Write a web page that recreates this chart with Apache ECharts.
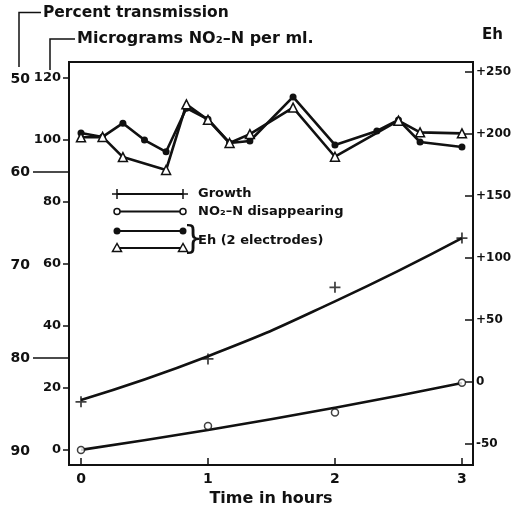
<!DOCTYPE html>
<html>
<head>
<meta charset="utf-8">
<script src="https://cdn.jsdelivr.net/npm/echarts@6/dist/echarts.min.js"></script>
<style>
  html, body { margin: 0; padding: 0; background: #fff; }
  #chart { width: 523px; height: 506px; }
</style>
</head>
<body>
<div id="chart"></div>
<script>
// Time axis (hours)
const hourTicks = [0, 1, 2, 3];

// Growth, expressed as percent transmission (observed points and fitted curve)
const growthHours = [0, 1, 2, 3];
const growthPct = [84.7, 80.1, 72.4, 67.1];
const growthCurveHours = [0, 1, 2, 3];
const growthCurvePct = [84.5, 79.8, 73.9, 67.1];

// NO2-N disappearing, micrograms per ml (observed points and fitted curve)
const nitriteHours = [0, 1, 2, 3];
const nitriteUg = [0, 7.7, 12.1, 21.7];
const nitriteCurveHours = [0, 1, 2, 3];
const nitriteCurveUg = [0, 6.4, 13.6, 21.6];

// Eh (mV) from two electrodes
const ehHoursA = [0, 0.17, 0.33, 0.5, 0.67, 0.83, 1, 1.17, 1.33, 1.67, 2, 2.33, 2.5, 2.67, 3];
const ehA = [200.7, 197.5, 208.6, 195, 185.5, 220.7, 211.8, 192.6, 194.2, 229.8, 191, 202.3, 211.2, 193.4, 189.4];
const ehHoursB = [0, 0.17, 0.33, 0.67, 0.83, 1, 1.17, 1.33, 1.67, 2, 2.5, 2.67, 3];
const ehB = [197.2, 197.5, 181.2, 170.8, 223.8, 211.3, 192.6, 199.8, 221.2, 181.5, 210.6, 201.2, 200.4];

// Tick values
const ugTicks = [0, 20, 40, 60, 80, 100, 120];
const pctTicks = [50, 60, 70, 80, 90];
const pctLongTicks = [60, 80];
const ehTicks = [-50, 0, 50, 100, 150, 200, 250];

const ink = '#111';
const fontFamily = '"DejaVu Sans", sans-serif';
const zip = (xs, ys) => xs.map((x, i) => [x, ys[i]]);

const plusPath = 'path://M4.2,0H5.8V4.2H10V5.8H5.8V10H4.2V5.8H0V4.2H4.2Z';

// Legend glyphs: a short line with a marker at each end
const legendX0 = 117, legendX1 = 183;
const rowY = [194, 211.5, 231, 248];
function marker(kind, x, y) {
  if (kind === 'plus') {
    return [
      { type: 'line', z: 110, shape: { x1: x - 5, y1: y, x2: x + 5, y2: y }, style: { stroke: ink, lineWidth: 1.5 } },
      { type: 'line', z: 110, shape: { x1: x, y1: y - 5, x2: x, y2: y + 5 }, style: { stroke: ink, lineWidth: 1.5 } }
    ];
  }
  if (kind === 'open') {
    return [{ type: 'circle', z: 110, shape: { cx: x, cy: y, r: 3 }, style: { fill: '#fff', stroke: ink, lineWidth: 1.5 } }];
  }
  if (kind === 'dot') {
    return [{ type: 'circle', z: 110, shape: { cx: x, cy: y, r: 3.5 }, style: { fill: ink } }];
  }
  return [{ type: 'polygon', z: 110, shape: { points: [[x, y - 4.5], [x - 4.5, y + 3.5], [x + 4.5, y + 3.5]] }, style: { fill: '#fff', stroke: ink, lineWidth: 1.5 } }];
}
function legendRow(kind, y) {
  return [
    { type: 'line', z: 105, shape: { x1: legendX0, y1: y, x2: legendX1, y2: y }, style: { stroke: ink, lineWidth: 2.2 } }
  ].concat(marker(kind, legendX0, y), marker(kind, legendX1, y));
}
function label(text, x, y, size) {
  return { type: 'text', x: x, y: y, z: 110, style: { text: text, fontSize: size, fontWeight: 'bold', fontFamily: fontFamily, fill: ink, align: 'left', verticalAlign: 'middle' } };
}

const graphics = [
  // axis titles with their leader brackets
  { type: 'polyline', shape: { points: [[41, 12.5], [19, 12.5], [19, 67]] }, style: { stroke: ink, lineWidth: 1.5, fill: null } },
  label('Percent transmission', 43, 13, 15.5),
  { type: 'polyline', shape: { points: [[75, 39], [50, 39], [50, 70]] }, style: { stroke: ink, lineWidth: 1.5, fill: null } },
  label('Micrograms NO₂–N per ml.', 77, 39, 16),
  label('Eh', 482, 35, 15),
  // legend
  ...legendRow('plus', rowY[0]),
  label('Growth', 198, rowY[0], 13),
  ...legendRow('open', rowY[1]),
  label('NO₂–N disappearing', 198, rowY[1], 13),
  ...legendRow('dot', rowY[2]),
  ...legendRow('tri', rowY[3]),
  { type: 'text', x: 183, y: (rowY[2] + rowY[3]) / 2, z: 110, style: { text: '}', fontSize: 32, fontFamily: fontFamily, fill: ink, align: 'left', verticalAlign: 'middle' } },
  label('Eh (2 electrodes)', 198, (rowY[2] + rowY[3]) / 2 + 1, 13)
];

const labelStyle = { color: ink, fontSize: 13, fontWeight: 'bold', fontFamily: fontFamily };

const option = {
  animation: false,
  backgroundColor: '#fff',
  grid: {
    left: 69, right: 50, top: 62, bottom: 41,
    outerBoundsMode: 'none',
    containLabel: false,
    show: true, borderColor: ink, borderWidth: 2, backgroundColor: 'transparent'
  },
  xAxis: {
    type: 'value',
    min: -0.0945,
    max: 3.087,
    name: 'Time in hours',
    nameLocation: 'middle',
    nameGap: 22,
    nameTextStyle: { color: ink, fontSize: 16, fontWeight: 'bold', fontFamily: fontFamily },
    axisLine: { show: true, onZero: false, lineStyle: { color: ink, width: 2 } },
    axisTick: { show: true, inside: true, length: 7, customValues: hourTicks, lineStyle: { color: ink, width: 1.5 } },
    axisLabel: Object.assign({ customValues: hourTicks, margin: 7 }, labelStyle, { fontSize: 14 }),
    splitLine: { show: false }
  },
  yAxis: [
    {
      // micrograms NO2-N per ml
      type: 'value',
      position: 'left',
      min: -4.88,
      max: 125.2,
      axisLine: { show: true, onZero: false, lineStyle: { color: ink, width: 2 } },
      axisTick: { show: true, length: 6, customValues: ugTicks, lineStyle: { color: ink, width: 1.5 } },
      axisLabel: Object.assign({ customValues: ugTicks, margin: 8 }, labelStyle),
      splitLine: { show: false }
    },
    {
      // percent transmission (reads downward)
      type: 'value',
      position: 'left',
      offset: 0,
      inverse: true,
      min: 48.17,
      max: 91.5,
      axisLine: { show: false, onZero: false },
      axisTick: { show: true, length: 36, customValues: pctLongTicks, lineStyle: { color: ink, width: 1.5 } },
      axisLabel: Object.assign({ customValues: pctTicks, margin: 39 }, labelStyle, { fontSize: 14 }),
      splitLine: { show: false }
    },
    {
      // Eh
      type: 'value',
      position: 'right',
      min: -67.4,
      max: 258,
      axisLine: { show: true, onZero: false, lineStyle: { color: ink, width: 2 } },
      axisTick: { show: true, inside: true, length: 8, customValues: ehTicks, lineStyle: { color: ink, width: 1.5 } },
      axisLabel: Object.assign({
        customValues: ehTicks,
        margin: 3,
        formatter: v => (v > 0 ? '+' + v : String(v))
      }, labelStyle, { fontSize: 12 }),
      splitLine: { show: false }
    }
  ],
  series: [
    {
      name: 'Growth curve',
      type: 'line',
      yAxisIndex: 1,
      data: zip(growthCurveHours, growthCurvePct),
      smooth: 0.5,
      showSymbol: false,
      lineStyle: { color: ink, width: 2.6 }
    },
    {
      name: 'Growth',
      type: 'scatter',
      yAxisIndex: 1,
      data: zip(growthHours, growthPct),
      symbol: plusPath,
      symbolSize: 11,
      itemStyle: { color: ink }
    },
    {
      name: 'NO2-N curve',
      type: 'line',
      yAxisIndex: 0,
      data: zip(nitriteCurveHours, nitriteCurveUg),
      smooth: 0.5,
      showSymbol: false,
      lineStyle: { color: ink, width: 2.6 }
    },
    {
      name: 'NO2-N disappearing',
      type: 'scatter',
      yAxisIndex: 0,
      data: zip(nitriteHours, nitriteUg),
      symbol: 'circle',
      symbolSize: 7,
      itemStyle: { color: '#fff', borderColor: ink, borderWidth: 1.5 },
      z: 3
    },
    {
      name: 'Eh electrode 1',
      type: 'line',
      yAxisIndex: 2,
      data: zip(ehHoursA, ehA),
      symbol: 'circle',
      symbolSize: 7,
      showAllSymbol: true,
      itemStyle: { color: ink },
      lineStyle: { color: ink, width: 2.6 }
    },
    {
      name: 'Eh electrode 2',
      type: 'line',
      yAxisIndex: 2,
      data: zip(ehHoursB, ehB),
      symbol: 'triangle',
      symbolSize: 9,
      showAllSymbol: true,
      itemStyle: { color: '#fff', borderColor: ink, borderWidth: 1.5 },
      lineStyle: { color: ink, width: 2.6 }
    }
  ],
  graphic: { elements: graphics }
};

const chart = echarts.init(document.getElementById('chart'), null, { renderer: 'canvas' });
chart.setOption(option);
</script>
</body>
</html>
